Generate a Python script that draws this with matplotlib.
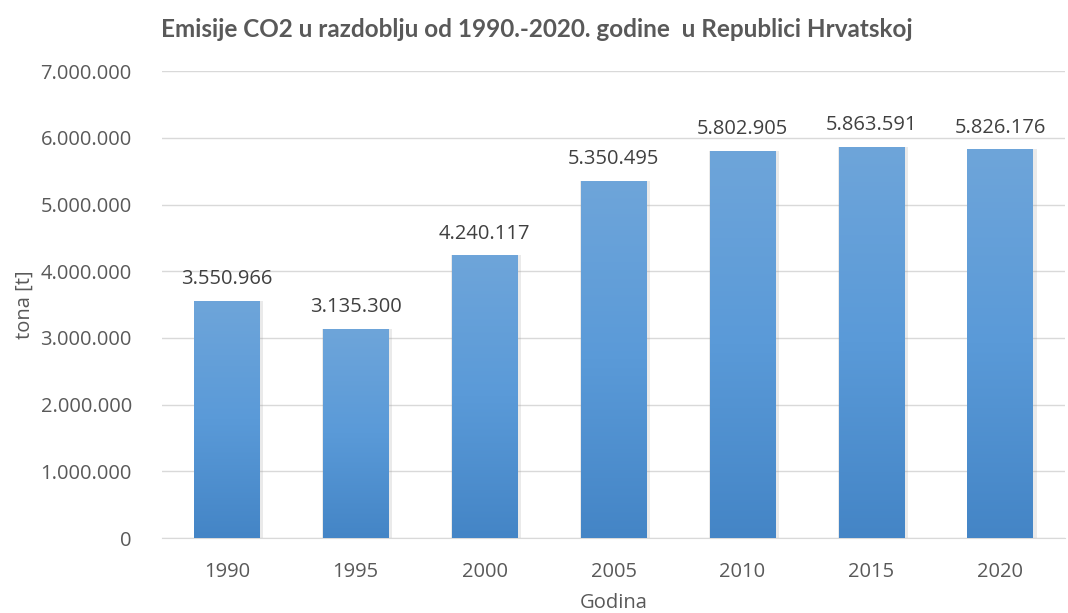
import numpy as np
import matplotlib.pyplot as plt
from matplotlib.colors import LinearSegmentedColormap
from matplotlib.ticker import FuncFormatter

godine = ["1990", "1995", "2000", "2005", "2010", "2015", "2020"]
emisije = [3550966, 3135300, 4240117, 5350495, 5802905, 5863591, 5826176]

plt.rcParams['font.family'] = ['Open Sans', 'DejaVu Sans']

def tocke(v, pos=None):
    return f"{int(v):,}".replace(",", ".")

fig = plt.figure(figsize=(10.68, 6.13), dpi=100)
ax = fig.add_axes([0.152, 0.1223, 0.845, 0.7617])

x = np.arange(len(godine))
sirina = 0.51

# sjena ispod stupaca
ax.bar(x + 0.012, emisije, width=sirina + 0.03, color="#9a9a9a", alpha=0.2, zorder=2)
stupci = ax.bar(x, emisije, width=sirina, color="#5b9bd5", zorder=3)

cmap = LinearSegmentedColormap.from_list("grad", ["#4485c6", "#5a9ad8", "#6ea5da"])
grad = np.linspace(0, 1, 256).reshape(-1, 1)
for b in stupci:
    x0, y0 = b.get_x(), b.get_y()
    w, h = b.get_width(), b.get_height()
    im = ax.imshow(grad, cmap=cmap, origin="lower", aspect="auto",
                   extent=[x0, x0 + w, y0, y0 + h], zorder=4)
    im.set_clip_path(b)

for xi, v in zip(x, emisije):
    ax.text(xi, v + 175000, tocke(v), ha="center", va="bottom",
            fontsize=14.5, color="#404040", zorder=5)

ax.set_xlim(-0.5, len(godine) - 0.5)
ax.set_ylim(0, 7000000)
ax.set_yticks(np.arange(0, 7000001, 1000000))
ax.yaxis.set_major_formatter(FuncFormatter(tocke))
ax.set_xticks(x)
ax.set_xticklabels(godine)
ax.tick_params(axis="both", length=0, labelsize=14.5, labelcolor="#595959")
ax.tick_params(axis="y", pad=22)
ax.tick_params(axis="x", pad=17)
ax.grid(axis="y", color="#d9d9d9", linewidth=1, zorder=0)
ax.set_axisbelow(True)
for s in ["top", "right", "left"]:
    ax.spines[s].set_visible(False)
ax.spines["bottom"].set_color("#d9d9d9")

ax.set_xlabel("Godina", fontsize=14.5, color="#595959", labelpad=8)
ax.set_ylabel("tona [t]", fontsize=14.5, color="#595959", labelpad=4)
fig.text(0.503, 0.952, "Emisije CO2 u razdoblju od 1990.-2020. godine  u Republici Hrvatskoj",
         ha="center", va="center", fontsize=17.5, fontweight="bold", color="#595959",
         family=["Lato", "DejaVu Sans"])

fig.savefig("out.png", dpi=100)
